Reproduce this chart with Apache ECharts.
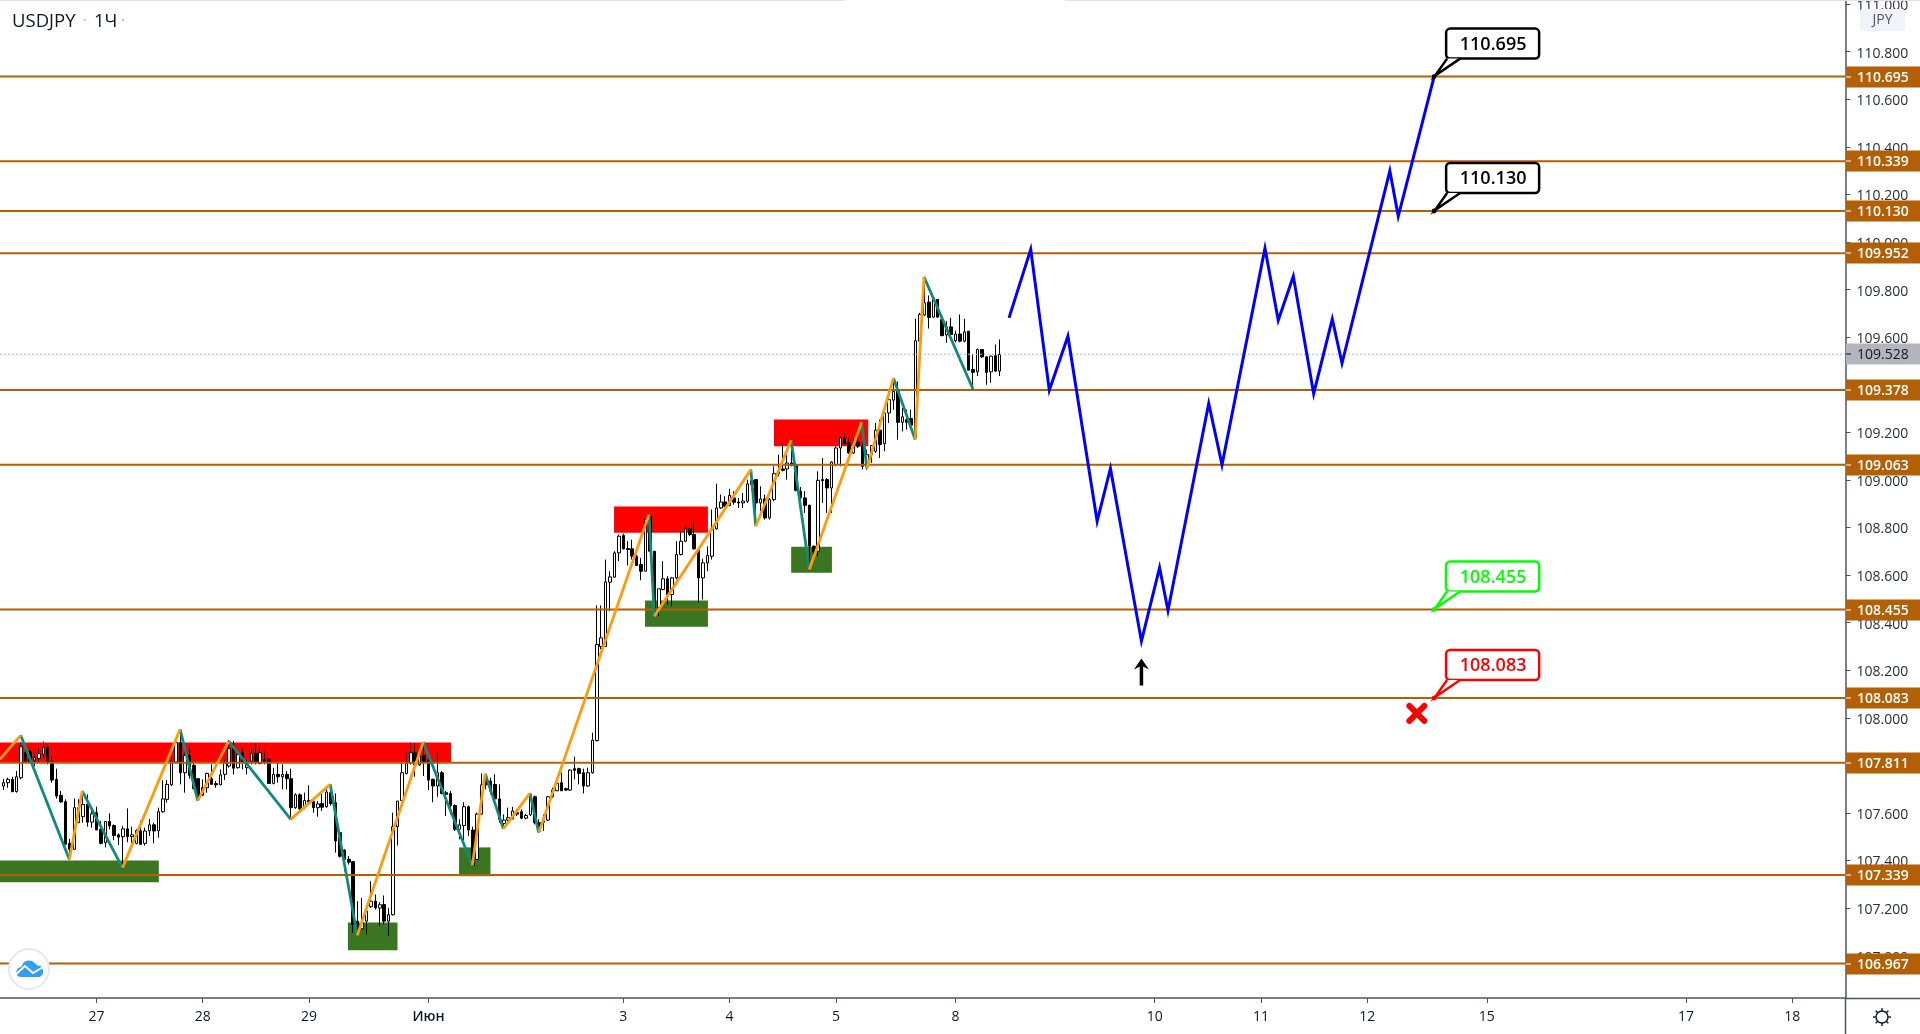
<!DOCTYPE html>
<html>
<head>
<meta charset="utf-8">
<style>html,body{margin:0;padding:0;background:#fff}#c{width:1920px;height:1034px}</style>
<script src="https://cdn.jsdelivr.net/npm/echarts@6/dist/echarts.min.js"></script>
</head>
<body>
<div id="c"></div>
<script>
const barOpen = [107.713,107.727,107.741,107.690,107.748,107.853,107.858,107.822,107.829,107.847,
107.875,107.814,107.741,107.674,107.647,107.472,107.447,107.559,107.584,107.636,
107.561,107.601,107.531,107.475,107.564,107.547,107.508,107.500,107.533,107.500,
107.472,107.525,107.472,107.525,107.550,107.525,107.605,107.657,107.718,107.814,
107.895,107.769,107.842,107.800,107.744,107.706,107.706,107.744,107.723,107.718,
107.762,107.797,107.870,107.790,107.853,107.790,107.818,107.850,107.808,107.825,
107.825,107.724,107.762,107.752,107.762,107.744,107.622,107.676,107.622,107.652,
107.647,107.622,107.640,107.626,107.685,107.643,107.517,107.444,107.405,107.395,
107.145,107.113,107.145,107.206,107.229,107.200,107.215,107.145,107.172,107.542,
107.652,107.766,107.811,107.853,107.802,107.842,107.822,107.741,107.713,107.769,
107.685,107.682,107.631,107.531,107.547,107.626,107.528,107.404,107.595,107.741,
107.734,107.720,107.659,107.556,107.570,107.575,107.601,107.605,107.578,107.592,
107.668,107.559,107.561,107.570,107.696,107.693,107.727,107.702,107.696,107.786,
107.786,107.769,107.713,107.769,107.904,108.300,108.300,108.570,108.591,108.693,
108.766,108.711,108.710,108.679,108.644,108.616,108.847,108.700,108.462,108.539,
108.584,108.518,108.588,108.686,108.742,108.794,108.770,108.707,108.588,108.651,
108.679,108.794,108.882,108.907,108.892,108.924,108.907,108.903,108.910,108.980,
109.001,108.903,108.920,108.840,108.917,109.026,109.046,109.046,109.071,109.060,
108.952,108.924,108.893,108.721,108.700,109.001,109.001,108.966,109.064,109.134,
109.176,109.155,109.113,109.158,109.141,109.057,109.106,109.120,109.209,109.152,
109.281,109.335,109.372,109.242,109.253,109.258,109.178,109.583,109.693,109.747,
109.684,109.758,109.674,109.609,109.643,109.585,109.613,109.583,109.625,109.464,
109.454,109.548,109.517,109.454,109.522,109.457];
const barClose = [107.727,107.741,107.689,107.752,107.878,107.818,107.814,107.833,107.849,107.874,
107.816,107.738,107.671,107.646,107.468,107.447,107.622,107.622,107.636,107.561,
107.596,107.528,107.472,107.564,107.545,107.505,107.498,107.533,107.500,107.508,
107.526,107.468,107.524,107.550,107.524,107.605,107.659,107.720,107.818,107.895,
107.769,107.842,107.758,107.702,107.659,107.674,107.766,107.720,107.718,107.760,
107.811,107.870,107.788,107.846,107.811,107.804,107.850,107.811,107.853,107.814,
107.724,107.762,107.752,107.762,107.744,107.622,107.676,107.617,107.652,107.645,
107.622,107.638,107.624,107.688,107.640,107.482,107.418,107.405,107.393,107.131,
107.096,107.138,107.187,107.229,107.201,107.214,107.145,107.172,107.542,107.650,
107.769,107.808,107.853,107.802,107.839,107.814,107.738,107.713,107.769,107.682,
107.678,107.631,107.531,107.550,107.626,107.528,107.379,107.595,107.718,107.718,
107.692,107.659,107.573,107.570,107.580,107.608,107.595,107.578,107.589,107.678,
107.559,107.522,107.566,107.668,107.668,107.724,107.693,107.696,107.780,107.779,
107.766,107.713,107.769,107.906,108.308,108.336,108.571,108.592,108.693,108.763,
108.710,108.707,108.679,108.640,108.616,108.833,108.700,108.448,108.542,108.584,
108.518,108.588,108.686,108.742,108.794,108.770,108.710,108.588,108.651,108.682,
108.794,108.882,108.907,108.889,108.935,108.906,108.903,108.911,108.983,108.998,
108.903,108.920,108.840,108.917,109.026,109.032,109.040,109.071,109.060,108.956,
108.924,108.893,108.721,108.696,108.998,108.997,108.966,109.075,109.134,109.176,
109.152,109.113,109.155,109.141,109.057,109.106,109.144,109.209,109.148,109.281,
109.337,109.372,109.242,109.265,109.242,109.230,109.585,109.695,109.744,109.682,
109.758,109.684,109.606,109.643,109.611,109.613,109.583,109.622,109.461,109.452,
109.548,109.517,109.452,109.520,109.457,109.527];
const barLow = [107.696,107.706,107.688,107.685,107.741,107.811,107.811,107.797,107.815,107.828,
107.804,107.727,107.660,107.643,107.468,107.405,107.444,107.559,107.559,107.542,
107.538,107.528,107.468,107.455,107.531,107.486,107.465,107.365,107.477,107.472,
107.468,107.465,107.463,107.503,107.472,107.496,107.601,107.643,107.713,107.811,
107.720,107.685,107.744,107.699,107.652,107.671,107.685,107.720,107.706,107.716,
107.738,107.790,107.762,107.786,107.783,107.762,107.804,107.804,107.804,107.804,
107.724,107.720,107.727,107.699,107.699,107.573,107.617,107.608,107.615,107.643,
107.601,107.584,107.608,107.622,107.631,107.433,107.412,107.355,107.383,107.096,
107.082,107.110,107.089,107.201,107.194,107.124,107.131,107.082,107.169,107.463,
107.650,107.762,107.804,107.752,107.797,107.755,107.696,107.645,107.668,107.678,
107.587,107.594,107.524,107.489,107.486,107.503,107.376,107.402,107.592,107.699,
107.678,107.657,107.559,107.533,107.559,107.573,107.587,107.573,107.573,107.587,
107.552,107.517,107.524,107.566,107.664,107.692,107.692,107.692,107.692,107.741,
107.720,107.682,107.710,107.765,107.900,108.288,108.300,108.448,108.588,108.658,
108.707,108.640,108.665,108.640,108.578,108.616,108.707,108.441,108.427,108.536,
108.476,108.469,108.581,108.682,108.738,108.763,108.707,108.483,108.497,108.616,
108.665,108.791,108.878,108.886,108.889,108.896,108.882,108.882,108.903,108.959,
108.868,108.868,108.833,108.833,108.910,109.015,109.036,109.001,109.057,108.952,
108.920,108.861,108.637,108.672,108.679,108.903,108.861,108.861,109.057,109.057,
109.148,109.110,109.110,109.134,109.043,109.043,109.071,109.113,109.092,109.120,
109.239,109.295,109.169,109.204,109.211,109.225,109.169,109.583,109.688,109.636,
109.681,109.681,109.604,109.576,109.606,109.578,109.578,109.578,109.461,109.377,
109.436,109.513,109.400,109.408,109.457,109.436];
const barHigh = [107.743,107.748,107.752,107.776,107.898,107.874,107.870,107.853,107.870,107.900,
107.888,107.839,107.786,107.692,107.657,107.491,107.661,107.657,107.692,107.678,
107.622,107.626,107.566,107.566,107.598,107.552,107.514,107.545,107.619,107.542,
107.531,107.568,107.538,107.575,107.559,107.622,107.737,107.738,107.832,107.898,
107.951,107.860,107.874,107.811,107.744,107.741,107.769,107.804,107.734,107.783,
107.825,107.906,107.902,107.853,107.874,107.822,107.874,107.892,107.874,107.860,
107.828,107.790,107.811,107.804,107.776,107.786,107.682,107.682,107.685,107.716,
107.664,107.650,107.682,107.702,107.720,107.682,107.517,107.447,107.419,107.397,
107.229,107.243,107.201,107.313,107.257,107.225,107.253,107.201,107.601,107.650,
107.811,107.853,107.895,107.892,107.853,107.895,107.832,107.744,107.860,107.776,
107.692,107.692,107.636,107.573,107.645,107.631,107.542,107.601,107.766,107.762,
107.748,107.762,107.720,107.594,107.622,107.626,107.615,107.615,107.596,107.682,
107.673,107.573,107.594,107.671,107.706,107.734,107.769,107.706,107.783,107.836,
107.790,107.786,107.790,107.937,108.472,108.472,108.665,108.616,108.700,108.770,
108.774,108.742,108.749,108.686,108.672,108.833,108.854,108.700,108.542,108.658,
108.595,108.592,108.742,108.784,108.805,108.798,108.826,108.707,108.668,108.721,
108.875,108.984,108.938,108.931,108.962,108.952,108.924,108.945,109.001,109.043,
109.004,108.973,108.938,108.924,109.057,109.106,109.152,109.106,109.169,109.071,
108.970,108.952,108.896,108.724,109.036,109.092,109.008,109.078,109.141,109.183,
109.197,109.176,109.176,109.183,109.158,109.127,109.144,109.239,109.253,109.281,
109.379,109.428,109.414,109.302,109.295,109.295,109.678,109.702,109.853,109.775,
109.765,109.758,109.688,109.667,109.681,109.627,109.695,109.677,109.625,109.527,
109.552,109.548,109.520,109.522,109.569,109.590];

const zigzagBars = [-0.77,3.9,14.9,17.8,26.9,39.9,43.9,50.9,64.9,73.8,79.9,94.8,105.9,108.8,112.9,118.9,120.9,145.8,147.0,168.8,169.9,177.9,182.0,193.8,195.0,201.0,205.9,207.9,219.0];
const zigzagPrices = [107.825,107.926,107.404,107.692,107.369,107.951,107.652,107.902,107.573,107.720,107.085,107.898,107.379,107.765,107.533,107.682,107.517,108.854,108.427,109.043,108.805,109.167,108.623,109.242,109.047,109.428,109.169,109.853,109.380];

const forecastBars = [227.1,232.0,236.2,240.4,247.0,250.0,257.0,261.1,263.0,272.2,275.2,284.9,287.9,291.3,295.9,300.1,302.3,313.1,315.0,323.1];
const forecastPrices = [109.681,109.969,109.377,109.604,108.826,109.048,108.322,108.631,108.451,109.321,109.063,109.974,109.671,109.856,109.362,109.676,109.490,110.299,110.108,110.695];

const levelPrices = [110.695,110.339,110.130,109.952,109.378,109.063,108.455,108.083,107.811,107.339,106.967];
const lastPrice = 109.528;

const redZones = [[-0.77,107.896,101.1,107.811],[137.9,108.888,159.1,108.778],[174.0,109.254,195.3,109.141]];
const greenZones = [[-0.77,107.400,35.1,107.309],[77.8,107.139,89.0,107.023],[102.9,107.455,110.0,107.334],[144.9,108.493,159.1,108.383],[177.9,108.719,187.1,108.610]];

const calloutBar = 323.1;
const calloutPrices = [110.695,110.130,108.455,108.083];
const calloutColors = ['#000000','#000000','#00ff00','#ff0000'];

const crossMark = [319.2,108.018];
const arrowMark = [257.0,108.249];

const xTickBars = [21,45,69,96,140,164,188,215,260,284,308,335,380,404];
const xTickLabels = ['27','28','29','Июн','3','4','5','8','10','11','12','15','17','18'];
const yTickValues = [107.0,107.2,107.4,107.6,107.8,108.0,108.2,108.4,108.6,108.8,109.0,109.2,109.4,109.6,109.8,110.0,110.2,110.4,110.6,110.8,111.0];

const xMin = -0.77, xMax = 416.0, yMin = 106.822, yMax = 111.017;
const FONT = '"Open Sans", sans-serif';
const AXIS = '#50535e', LEVEL = '#b25f05', TAGGREY = '#b2b5be';

const candles = barOpen.map((o,i)=>[i,o,barClose[i],barLow[i],barHigh[i]]);

function legs(remainder){
  const out = [];
  for(let i=0;i<zigzagBars.length-1;i++){
    if(i%2===remainder){
      out.push([zigzagBars[i],zigzagPrices[i]],[zigzagBars[i+1],zigzagPrices[i+1]],[null,null]);
    }
  }
  return out;
}
const levelLines = [];
levelPrices.forEach(v=>levelLines.push([xMin,v],[xMax,v],[null,null]));

function lineSeries(data,color,width,z,extra){
  return Object.assign({type:'line',data,showSymbol:false,symbol:'none',silent:true,animation:false,z,
    lineStyle:{color,width,join:'miter',cap:'butt'}},extra||{});
}
function zoneSeries(data,color){
  return {type:'custom',data,z:1,silent:true,animation:false,encode:{x:[0,2],y:[1,3]},
    renderItem(p,api){
      const a=api.coord([api.value(0),api.value(1)]), b=api.coord([api.value(2),api.value(3)]);
      return {type:'rect',shape:{x:a[0],y:a[1],width:b[0]-a[0],height:b[1]-a[1]},style:{fill:color}};
    }};
}
function tagSeries(values,bg,fg,z,weight){
  return {type:'custom',data:values.map(v=>[xMax,v]),z,silent:true,animation:false,encode:{x:0,y:1},
    renderItem(p,api){
      const y=Math.round(api.coord([xMax,api.value(1)])[1]);
      const x0=Math.round(p.coordSys.x+p.coordSys.width);
      return {type:'group',children:[
        {type:'rect',shape:{x:x0,y:y-10.5,width:api.getWidth()-x0,height:21},style:{fill:bg}},
        {type:'line',shape:{x1:x0,y1:y,x2:x0+5,y2:y},style:{stroke:fg,lineWidth:1}},
        {type:'text',style:{text:api.value(1).toFixed(3),x:x0+11,y:y+1,fill:fg,font:weight+' 14px '+FONT,textAlign:'left',textVerticalAlign:'middle'}}
      ]};
    }};
}
const calloutSeries = {type:'custom',data:calloutPrices.map((v,i)=>[calloutBar,v,i]),z:8,silent:true,animation:false,encode:{x:0,y:1},
  renderItem(p,api){
    const c=api.coord([api.value(0),api.value(1)]), col=calloutColors[api.value(2)];
    const x=c[0], y=c[1];
    return {type:'group',children:[
      {type:'rect',shape:{x:x+12,y:y-48,width:93,height:30,r:4},style:{fill:'#fff',stroke:col,lineWidth:2.5}},
      {type:'polygon',shape:{points:[[x+1,y-1],[x+13,y-18],[x+26,y-18]]},style:{fill:'#fff'}},
      {type:'polyline',shape:{points:[[x+13,y-18],[x+1,y-1],[x+26,y-18]]},style:{fill:null,stroke:col,lineWidth:2.5}},
      {type:'circle',shape:{cx:x,cy:y,r:2.4},style:{fill:col}},
      {type:'text',style:{text:api.value(1).toFixed(3),x:x+59,y:y-32,fill:col,font:'600 18px '+FONT,textAlign:'center',textVerticalAlign:'middle'}}
    ]};
  }};
const crossSeries = {type:'custom',data:[crossMark],z:8,silent:true,animation:false,encode:{x:0,y:1},
  renderItem(p,api){
    const c=api.coord([api.value(0),api.value(1)]), r=7.5;
    const s={stroke:'#ff0000',lineWidth:6,lineCap:'round'};
    return {type:'group',children:[
      {type:'line',shape:{x1:c[0]-r,y1:c[1]-r,x2:c[0]+r,y2:c[1]+r},style:s},
      {type:'line',shape:{x1:c[0]-r,y1:c[1]+r,x2:c[0]+r,y2:c[1]-r},style:s}
    ]};
  }};
const arrowSeries = {type:'custom',data:[arrowMark],z:8,silent:true,animation:false,encode:{x:0,y:1},
  renderItem(p,api){
    const c=api.coord([api.value(0),api.value(1)]);
    return {type:'group',children:[
      {type:'line',shape:{x1:c[0],y1:c[1]+5,x2:c[0],y2:c[1]+27},style:{stroke:'#000',lineWidth:3.5}},
      {type:'polygon',shape:{points:[[c[0],c[1]],[c[0]+7.5,c[1]+11],[c[0]+1.5,c[1]+8],[c[0]-1.5,c[1]+8],[c[0]-7.5,c[1]+11]]},style:{fill:'#000'}}
    ]};
  }};

const graphics = [
  {type:'rect',shape:{x:0,y:0,width:845,height:1},style:{fill:'#e0e3eb'},z:100},
  {type:'rect',shape:{x:1065,y:0,width:855,height:1},style:{fill:'#e0e3eb'},z:100},
  {type:'line',shape:{x1:1845.5,y1:998,x2:1845.5,y2:1034},style:{stroke:AXIS,lineWidth:1.5},z:100},
  {type:'line',shape:{x1:1845,y1:998.5,x2:1920,y2:998.5},style:{stroke:AXIS,lineWidth:1.5},z:100},
  {type:'rect',shape:{x:1860,y:9,width:45,height:22,r:3},style:{fill:'#f0f3fa'},z:100},
  {type:'text',style:{text:'JPY',x:1882.5,y:20,fill:AXIS,font:'14px '+FONT,textAlign:'center',textVerticalAlign:'middle'},z:101},
  {type:'circle',shape:{cx:29,cy:969,r:20},style:{fill:'#fff',stroke:'#e6e8ec',lineWidth:2},z:100},
  {type:'polygon',shape:{points:[[16,972],[18,968],[21,967],[24,962],[28,960.5],[32,961],[36,964],[37,965.5],[41,966],[43,970],[43,974],[40,977],[20,977],[17,975.5]]},style:{fill:'#2f9ff0'},z:101},
  {type:'polyline',shape:{points:[[15,975],[25,966],[33,973],[43,967]]},style:{fill:null,stroke:'#fff',lineWidth:2},z:102},
  {type:'circle',shape:{cx:1882,cy:1017,r:6},style:{fill:'#fff',stroke:'#131722',lineWidth:1.4},z:100}
];
for(let k=0;k<8;k++){
  const a=k*Math.PI/4, ca=Math.cos(a), sa=Math.sin(a);
  graphics.push({type:'line',shape:{x1:1882+6*ca,y1:1017+6*sa,x2:1882+9*ca,y2:1017+9*sa},style:{stroke:'#131722',lineWidth:1.4},z:100});
}

const chart = echarts.init(document.getElementById('c'),null,{renderer:'canvas'});
chart.setOption({
  animation:false,
  backgroundColor:'#ffffff',
  title:{left:7,top:7,text:'{a|USDJPY}{d|  ·  }{a|1Ч}{d| ·}',
    textStyle:{fontWeight:'normal',rich:{a:{fontFamily:'"Open Sans"',fontSize:18.5,fontWeight:'normal',color:'#131722'},d:{fontFamily:'"Open Sans"',fontSize:14,fontWeight:'bold',color:'#c0c2ca'}}}},
  grid:{left:0,right:74.5,top:0,bottom:36,outerBoundsMode:'none'},
  xAxis:{type:'value',min:xMin,max:xMax,
    axisLine:{show:true,onZero:false,lineStyle:{color:AXIS,width:1.5}},
    axisTick:{show:true,length:5,customValues:xTickBars,lineStyle:{color:AXIS}},
    splitLine:{show:false},
    axisLabel:{customValues:xTickBars,margin:12,color:'#131722',fontFamily:'"Open Sans"',fontSize:14,
      formatter(v){const l=xTickLabels[xTickBars.indexOf(v)]; return l==='Июн'?'{b|Июн}':l;},
      rich:{b:{fontFamily:'"Open Sans"',fontSize:14,fontWeight:600,color:'#131722'}}}},
  yAxis:{type:'value',position:'right',min:yMin,max:yMax,
    axisLine:{show:true,onZero:false,lineStyle:{color:AXIS,width:1.5}},
    axisTick:{show:true,length:5,customValues:yTickValues,lineStyle:{color:AXIS}},
    splitLine:{show:false},
    axisLabel:{customValues:yTickValues,margin:11,
      formatter:v=>'{t|'+v.toFixed(3)+'}',
      rich:{t:{color:'#2a2e39',fontFamily:'"Open Sans"',fontSize:14,padding:[4,0,0,0]}}}},
  graphic:graphics,
  series:[
    zoneSeries(redZones,'#ff0000'),
    zoneSeries(greenZones,'#3a761f'),
    {type:'candlestick',data:candles,z:2,barWidth:3,silent:true,animation:false,
      itemStyle:{color:'#ffffff',color0:'#000000',borderColor:'#000000',borderColor0:'#000000',borderWidth:1}},
    lineSeries(levelLines,LEVEL,2,3),
    lineSeries([[xMin,lastPrice],[xMax,lastPrice]],TAGGREY,1,3,{lineStyle:{color:TAGGREY,width:1,type:[2,2]}}),
    lineSeries(legs(1),'#0f8a7e',2.8,4),
    lineSeries(legs(0),'#ff9a0a',2.8,5),
    lineSeries(forecastBars.map((b,i)=>[b,forecastPrices[i]]),'#0000ff',3,6),
    tagSeries([lastPrice],TAGGREY,'#131722',7,'normal'),
    tagSeries(levelPrices,LEVEL,'#ffffff',7,'600'),
    calloutSeries,crossSeries,arrowSeries
  ]
});
</script>
</body>
</html>
